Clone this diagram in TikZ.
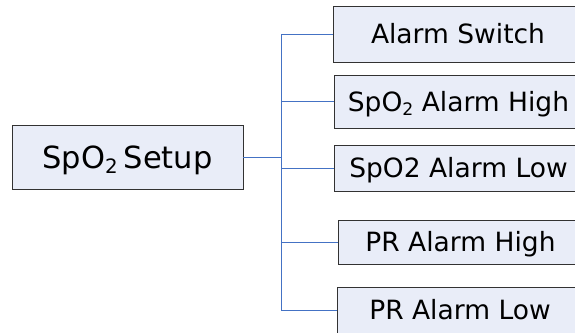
\documentclass[tikz,border=0pt]{standalone}
\usepackage{fontspec}
\setmainfont{DejaVu Sans}
\usepackage{color}
\definecolor{boxfill}{RGB}{233,237,248}
\definecolor{boxline}{RGB}{50,50,50}
\definecolor{linkblue}{RGB}{68,114,196}
\newcommand{\subtwo}{\raisebox{-0.18em}{\fontsize{0.65em}{0.7em}\selectfont 2}}

\begin{document}
\begin{tikzpicture}[%
      x=1pt, y=-1pt,
      box/.style={draw=boxline, fill=boxfill, line width=0.8pt, inner sep=0pt,
        text height=19.3pt, text depth=0pt, font=\fontsize{26.5}{30}\selectfont},
      link/.style={draw=linkblue, line width=0.9pt},
      ]
      \useasboundingbox (0,0) rectangle (575,332);
      \clip (0,0) rectangle (575,332);

      \node [box, minimum width=231pt, minimum height=64pt, text height=22pt,
        font=\fontsize{30.5}{34}\selectfont] (setup) at (127.5,157) {SpO\subtwo\hspace{0.2em}Setup};

      \node [box, minimum width=250pt, minimum height=56pt] (switch) at (458,34) {Alarm Switch};
      \node [box, minimum width=249pt, minimum height=53pt] (spohigh) at (458.5,101.5) {SpO\subtwo{} Alarm High};
      \node [box, minimum width=249pt, minimum height=46pt] (spolow) at (458.5,168) {SpO2 Alarm Low};
      \node [box, minimum width=245pt, minimum height=44pt] (prhigh) at (460.5,242) {PR Alarm High};
      \node [box, minimum width=246pt, minimum height=46pt] (prlow) at (460,310) {PR Alarm Low};

      \coordinate (fork) at (281,157);
      \draw [link] (setup.east) -- (fork);
      \draw [link] (fork) |- (switch.west);
      \draw [link] (fork) |- (spohigh.west);
      \draw [link] (fork) |- (spolow.west);
      \draw [link] (fork) |- (prhigh.west);
      \draw [link] (fork) |- (prlow.west);
      \end{tikzpicture}
\end{document}
